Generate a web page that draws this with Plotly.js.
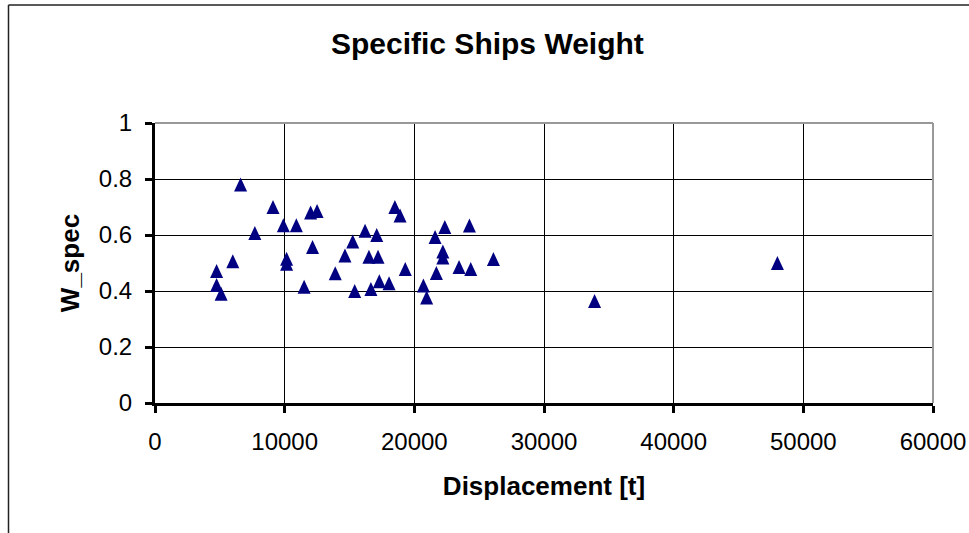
<!DOCTYPE html>
<html>
<head>
<meta charset="utf-8">
<script src="https://cdn.plot.ly/plotly-3.0.1.min.js"></script>
<style>
html,body{margin:0;padding:0;background:#fff;}
#chart{width:969px;height:533px;}
</style>
</head>
<body>
<div id="chart"></div>
<script>
// Data
const displacement = [6600, 9100, 9900, 10900, 12000, 12500, 7700, 12150, 6000, 10150,
  10150, 4750, 4750, 5100, 11500, 13900, 18500, 18900, 16200, 17100,
  15250, 14650, 16500, 17200, 19300, 15400, 16650, 17300, 18050, 20700,
  20950, 22350, 24250, 21600, 22200, 22200, 21700, 23450, 24350, 26100,
  33900, 48000];
const wSpec = [0.78, 0.70, 0.635, 0.635, 0.68, 0.686, 0.607, 0.557, 0.506, 0.515,
  0.497, 0.471, 0.421, 0.39, 0.415, 0.463, 0.70, 0.67, 0.615, 0.60,
  0.577, 0.527, 0.522, 0.522, 0.479, 0.40, 0.407, 0.435, 0.428, 0.42,
  0.377, 0.629, 0.634, 0.593, 0.541, 0.52, 0.464, 0.486, 0.479, 0.514,
  0.364, 0.50];
const chartTitle = "Specific Ships Weight";
const xTitle = "Displacement [t]";
const yTitle = "W_spec";

const FONT = "Liberation Sans, Arial, sans-serif";
const L = 155, R = 36, T = 123, B = 130;
const W = 969, H = 533;
const pw = W - L - R, ph = H - T - B;
const px = v => (v - L) / pw;
const py = v => (H - B - v) / ph;

const trace = {
  type: "scatter",
  mode: "markers",
  x: displacement,
  y: wSpec,
  marker: { symbol: "triangle-up", size: 11, color: "#000080", line: { width: 0 } },
  hoverinfo: "x+y",
  showlegend: false
};

const layout = {
  width: W, height: H,
  margin: { l: L, r: R, t: T, b: B },
  paper_bgcolor: "#ffffff",
  plot_bgcolor: "#ffffff",
  font: { family: FONT, color: "#000", size: 24 },
  title: {
    text: "<b>" + chartTitle + "</b>",
    font: { family: FONT, size: 30, color: "#000" },
    xref: "container", yref: "container",
    x: 0.503, xanchor: "center",
    y: 1 - 43 / H, yanchor: "middle"
  },
  xaxis: {
    range: [0, 60000],
    tick0: 0, dtick: 10000,
    tickformat: "d",
    showgrid: true, gridcolor: "#000", gridwidth: 1,
    zeroline: false,
    showline: true, linecolor: "#000", linewidth: 3,
    ticks: "outside", ticklen: 7, tickwidth: 3, tickcolor: "#000",
    tickfont: { family: FONT, size: 24, color: "#000" },
    ticklabelstandoff: 8,
    title: { text: "<b>" + xTitle + "</b>", font: { family: FONT, size: 26, color: "#000" }, standoff: 24 },
    fixedrange: true
  },
  yaxis: {
    range: [0, 1],
    tick0: 0, dtick: 0.2,
    showgrid: true, gridcolor: "#000", gridwidth: 1,
    zeroline: false,
    showline: true, linecolor: "#000", linewidth: 3,
    ticks: "outside", ticklen: 7, tickwidth: 3, tickcolor: "#000",
    tickfont: { family: FONT, size: 24, color: "#000" },
    ticklabelstandoff: 8,
    title: { text: "<b>" + yTitle + "</b>", font: { family: FONT, size: 26, color: "#000" }, standoff: 12 },
    fixedrange: true
  },
  shapes: [
    // grey plot-area frame on top and right
    { type: "line", xref: "paper", yref: "paper", x0: 0, x1: 1, y0: 1, y1: 1, line: { color: "#999", width: 2 }, layer: "above" },
    { type: "line", xref: "paper", yref: "paper", x0: 1, x1: 1, y0: 0, y1: 1, line: { color: "#999", width: 2 }, layer: "above" },
    // outer chart border (left and top)
    { type: "line", xref: "paper", yref: "paper", x0: px(8.5), x1: px(8.5), y0: py(5), y1: py(540), line: { color: "#222", width: 1.5 }, layer: "above" },
    { type: "line", xref: "paper", yref: "paper", x0: px(8.5), x1: px(980), y0: py(5), y1: py(5), line: { color: "#222", width: 1.5 }, layer: "above" }
  ]
};

Plotly.newPlot("chart", [trace], layout, { displayModeBar: false, staticPlot: true }).then(gd => {
  // Excel-style equilateral triangles (shape only; positions come from Plotly)
  gd.querySelectorAll(".scatterlayer path.point").forEach(p => {
    p.setAttribute("d", "M-6.5,7L6.5,7L0,-7Z");
  });
});
</script>
</body>
</html>
